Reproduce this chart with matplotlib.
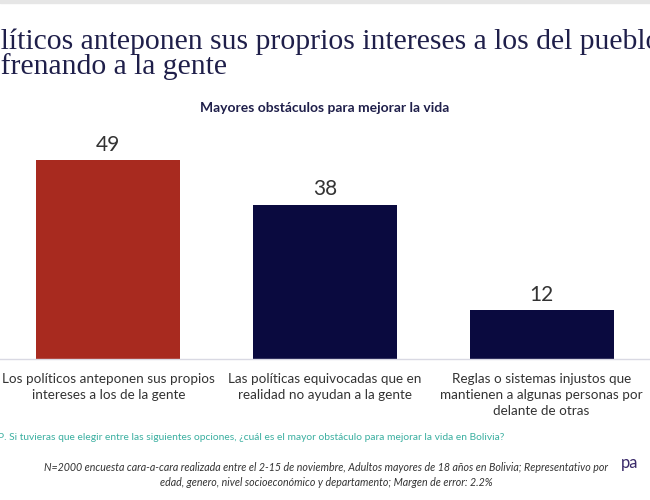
import matplotlib
matplotlib.use("Agg")
import matplotlib.pyplot as plt

categories = [
    "Los políticos anteponen sus propios\nintereses a los de la gente",
    "Las políticas equivocadas que en\nrealidad no ayudan a la gente",
    "Reglas o sistemas injustos que\nmantienen a algunas personas por\ndelante de otras",
]
values = [49, 38, 12]
bar_colors = ["#A82A1F", "#0A0A3F", "#0A0A3F"]

title_prefix = ["Los po", "y están "]
title_rest = ["líticos anteponen sus proprios intereses a los del pueblo,",
              "frenando a la gente"]
subtitle = "Mayores obstáculos para mejorar la vida"
question = "P. Si tuvieras que elegir entre las siguientes opciones, ¿cuál es el mayor obstáculo para mejorar la vida en Bolivia?"
footnote = ("N=2000 encuesta cara-a-cara realizada entre el 2-15 de noviembre, Adultos mayores de 18 años en Bolivia; Representativo por\n"
            "edad, genero, nivel socioeconómico y departamento; Margen de error: 2.2%")

W, H = 650, 500
fig = plt.figure(figsize=(6.5, 5), dpi=100)
fig.patch.set_facecolor("white")
SANS = "Lato"

# top gray strip
fig.patches.append(plt.Rectangle((0, 1 - 3 / H), 1, 3 / H, transform=fig.transFigure,
                                 color="#E6E6E6", zorder=0))

ymax = 56
ppu = 4.06
ax = fig.add_axes([0, (H - 359) / H, 1, ymax * ppu / H])
x = list(range(len(values)))
ax.bar(x, values, width=0.665, color=bar_colors, edgecolor="none")
ax.set_xlim(-0.5, 2.5)
ax.set_ylim(0, ymax)
for s in ["top", "right", "left"]:
    ax.spines[s].set_visible(False)
ax.spines["bottom"].set_color("#D9D9E3")
ax.spines["bottom"].set_linewidth(1)
ax.set_yticks([])
ax.set_xticks(x)
ax.set_xticklabels(categories, fontsize=9.7, color="#333333", family=SANS,
                   linespacing=1.4)
ax.tick_params(axis="x", length=0, pad=10)
for xi, v in zip(x, values):
    ax.annotate(str(v), (xi, v), xytext=(0, 4), textcoords="offset points",
                ha="center", va="bottom", fontsize=15, color="#333333", family=SANS)

# title (clipped at left edge like the reference)
renderer = fig.canvas.get_renderer()
baselines = [49, 74]
TS = 21.3
for pre, rest, yb in zip(title_prefix, title_rest, baselines):
    t = fig.text(0, 0, pre, fontsize=TS, family="Liberation Serif")
    wpx = t.get_window_extent(renderer).width
    t.remove()
    fig.text(-wpx / W + 1 / W, 1 - yb / H, pre + rest, fontsize=TS, color="#1F1F4A",
             family="Liberation Serif", ha="left", va="baseline")

fig.text(325 / W, 1 - 108 / H, subtitle, fontsize=10, fontweight="bold", color="#1F1F4A",
         family=SANS, ha="center", va="center")

fig.text(-2 / W, 1 - 438 / H, question, fontsize=7.4, color="#3AAFA0",
         family=SANS, ha="left", va="center")

fig.text(326 / W, 1 - 475 / H, footnote, fontsize=7.7, style="italic", color="#333333",
         family=SANS, ha="center", va="center", linespacing=1.5)

fig.text(621 / W, 1 - 463 / H, "pa", fontsize=12, color="#3A2A6A",
         family=SANS, ha="left", va="center")

fig.savefig("out.png", dpi=100, facecolor="white")
